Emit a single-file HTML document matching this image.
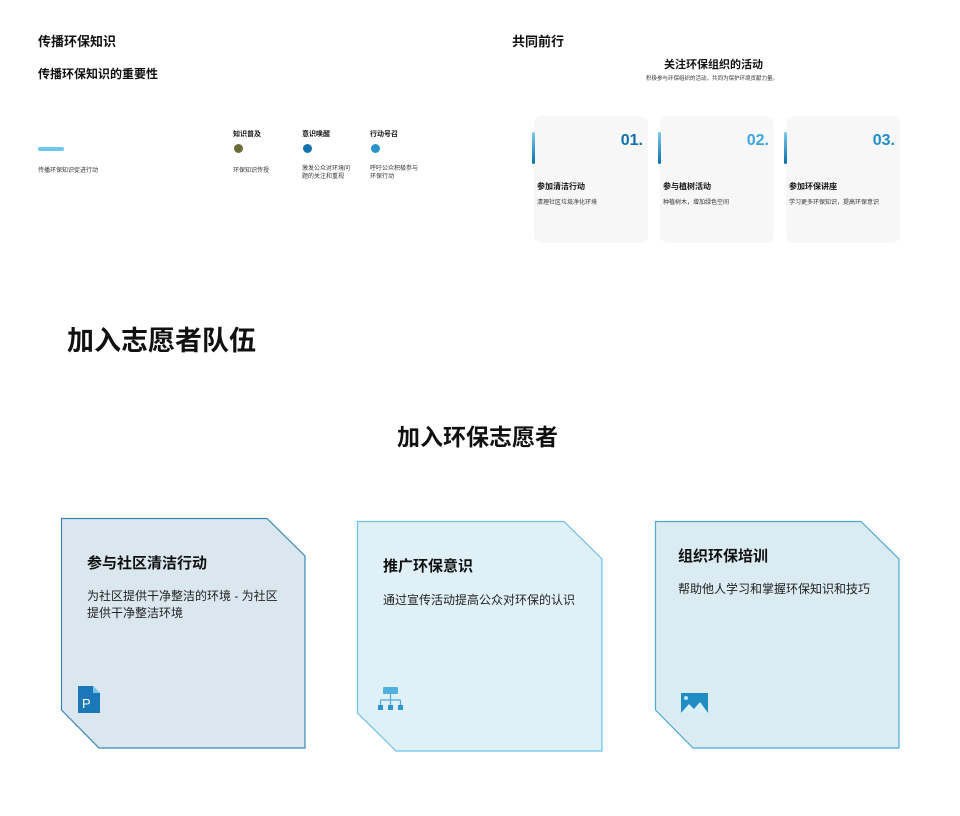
<!DOCTYPE html>
<html><head><meta charset="utf-8"><style>
body{margin:0;width:960px;height:816px;background:#fff;position:relative;overflow:hidden;font-family:"Liberation Sans","Noto Sans CJK SC",sans-serif;color:#111}
.a{position:absolute;white-space:nowrap}
.b{font-weight:bold}
.card{position:absolute;width:114px;height:127px;background:#f7f7f7;border-radius:8px}
.bar{position:absolute;left:-2px;top:16px;width:3px;height:32px;border-radius:2px;background:linear-gradient(#7ccbec,#0b6fa8)}
.num{position:absolute;right:5px;top:16px;font-size:16px;font-weight:bold}
.ct{position:absolute;left:3px;top:65px;font-size:8px;font-weight:bold}
.cd{position:absolute;left:3px;top:81px;font-size:6px;color:#333}
.dot{position:absolute;width:9px;height:9px;border-radius:50%}
</style></head><body>
<div class="a b" style="left:38px;top:31px;font-size:13px">传播环保知识</div>
<div class="a b" style="left:38px;top:65px;font-size:12px">传播环保知识的重要性</div>
<div class="a" style="left:38px;top:147px;width:26px;height:4px;border-radius:2px;background:#6cc8ef"></div>
<div class="a" style="left:38px;top:165px;font-size:6px;color:#333">传播环保知识促进行动</div>
<div class="a b" style="left:233px;top:129px;font-size:7px">知识普及</div>
<div class="a b" style="left:302px;top:129px;font-size:7px">意识唤醒</div>
<div class="a b" style="left:370px;top:129px;font-size:7px">行动号召</div>
<div class="dot" style="left:234px;top:144px;background:#6f6a3a"></div>
<div class="dot" style="left:303px;top:144px;background:#1272ad"></div>
<div class="dot" style="left:371px;top:144px;background:#2a93c8"></div>
<div class="a" style="left:233px;top:165px;font-size:6px;color:#333">环保知识传授</div>
<div class="a" style="left:302px;top:165px;font-size:6px;color:#333;line-height:8px">激发公众对环境问<br>题的关注和重视</div>
<div class="a" style="left:370px;top:165px;font-size:6px;color:#333;line-height:8px">呼吁公众积极参与<br>环保行动</div>

<div class="a b" style="left:512px;top:31px;font-size:13px">共同前行</div>
<div class="a b" style="left:664px;top:56px;font-size:11px">关注环保组织的活动</div>
<div class="a" style="left:646px;top:74px;font-size:5.5px;color:#333">积极参与环保组织的活动，共同为保护环境贡献力量。</div>
<div class="card" style="left:534px;top:116px"><div class="bar"></div><div class="num" style="color:#0f6fae">01.</div><div class="ct">参加清洁行动</div><div class="cd">清理社区垃圾净化环境</div></div>
<div class="card" style="left:660px;top:116px"><div class="bar"></div><div class="num" style="color:#3aa6dc">02.</div><div class="ct">参与植树活动</div><div class="cd">种植树木，增加绿色空间</div></div>
<div class="card" style="left:786px;top:116px"><div class="bar"></div><div class="num" style="color:#1f8fc5">03.</div><div class="ct">参加环保讲座</div><div class="cd">学习更多环保知识，提高环保意识</div></div>

<div class="a b" style="left:67px;top:319px;font-size:27px">加入志愿者队伍</div>
<div class="a b" style="left:397px;top:418px;font-size:23px">加入环保志愿者</div>

<svg class="a" style="left:0;top:0" width="960" height="816">
<polygon points="61.5,518.5 267,518.5 305,556 305,748 99,748 61.5,710" fill="#dbe7ef" stroke="#3a86b8" stroke-width="1.2"/>
<polygon points="357.5,521.5 564,521.5 602,559 602,751 396,751 357.5,713" fill="#dff0f7" stroke="#6cc1e6" stroke-width="1.2"/>
<polygon points="655.5,521.5 861,521.5 899,559 899,748 693,748 655.5,710" fill="#dbebf2" stroke="#4ea8d4" stroke-width="1.2"/>
<path d="M78,686 h15 l7,7 v20 h-22z" fill="#1a78b8"/><path d="M93,686 v7 h7z" fill="#7cc6ec"/>
<text x="82" y="708" font-size="13" fill="#fff" font-family="Liberation Sans">P</text>
<rect x="383" y="687" width="15" height="7" rx="1" fill="#4fb0e0"/>
<path d="M390.5,694 v6 M380.5,700 h20 M380.5,700 v5 M390.5,700 v5 M400.5,700 v5" stroke="#4fa8da" stroke-width="1.2" fill="none"/>
<rect x="378" y="705" width="5" height="5" fill="#2e95cf"/><rect x="388" y="705" width="5" height="5" fill="#2e95cf"/><rect x="398" y="705" width="5" height="5" fill="#2e95cf"/>
<rect x="681" y="693" width="27" height="20" fill="#1f8cc4"/><circle cx="686" cy="698" r="2" fill="#bfe6f7"/>
<path d="M681,713 l8,-9 l5,5 l6,-7 l8,11z" fill="#d8f0fa"/>
</svg>
<div class="a b" style="left:87px;top:552px;font-size:15px">参与社区清洁行动</div>
<div class="a" style="left:87px;top:588px;font-size:12px;line-height:17px;color:#222">为社区提供干净整洁的环境 - 为社区<br>提供干净整洁环境</div>
<div class="a b" style="left:383px;top:555px;font-size:15px">推广环保意识</div>
<div class="a" style="left:383px;top:591px;font-size:12px;color:#222">通过宣传活动提高公众对环保的认识</div>
<div class="a b" style="left:678px;top:545px;font-size:15px">组织环保培训</div>
<div class="a" style="left:678px;top:580px;font-size:12px;color:#222">帮助他人学习和掌握环保知识和技巧</div>
</body></html>
